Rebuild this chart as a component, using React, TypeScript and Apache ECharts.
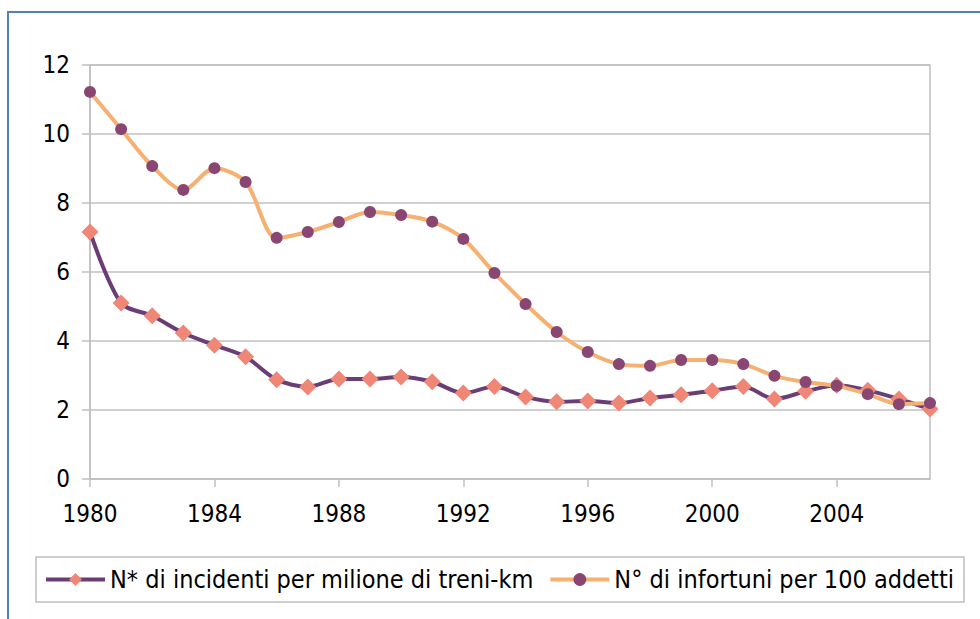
import React, { useEffect, useRef } from "react";
import * as echarts from "echarts";

const years = [
  "1980", "1981", "1982", "1983", "1984", "1985", "1986", "1987", "1988", "1989",
  "1990", "1991", "1992", "1993", "1994", "1995", "1996", "1997", "1998", "1999",
  "2000", "2001", "2002", "2003", "2004", "2005", "2006", "2007",
];
const incidenti = [
  7.16, 5.1, 4.73, 4.23, 3.88, 3.54, 2.88, 2.67, 2.9, 2.9,
  2.96, 2.82, 2.49, 2.68, 2.38, 2.24, 2.26, 2.2, 2.35, 2.44,
  2.56, 2.68, 2.32, 2.54, 2.72, 2.57, 2.32, 2.03,
];
const infortuni = [
  11.22, 10.14, 9.07, 8.38, 9.01, 8.61, 6.99, 7.16, 7.45, 7.74,
  7.65, 7.46, 6.96, 5.97, 5.07, 4.26, 3.68, 3.33, 3.28, 3.45,
  3.45, 3.33, 2.99, 2.81, 2.7, 2.46, 2.17, 2.2,
];
const seriesNames = [
  "N* di incidenti per milione di treni-km",
  "N° di infortuni per 100 addetti",
];

const FONT = "'DejaVu Sans Condensed', 'Liberation Sans', Arial, sans-serif";

export default function App() {
  const ref = useRef<HTMLDivElement>(null);
  useEffect(() => {
    if (!ref.current) return;
    const chart = echarts.init(ref.current, null, { renderer: "svg" });
    chart.setOption({
      animation: false,
      backgroundColor: "#ffffff",
      textStyle: { fontFamily: FONT },
      graphic: [
        {
          type: "rect",
          shape: { x: 8, y: 12, width: 1100, height: 800 },
          style: { fill: "none", stroke: "#4f81bd", lineWidth: 2 },
          silent: true,
        },
      ],
      grid: {
        left: 90,
        right: 50,
        top: 65,
        bottom: 140,
        show: true,
        borderColor: "#c0c0c0",
        borderWidth: 1.5,
        containLabel: false,
      },
      legend: {
        left: 36,
        top: 557,
        padding: [10, 10, 10, 8],
        borderColor: "#bfbfbf",
        borderWidth: 1.5,
        itemWidth: 59,
        itemHeight: 16,
        itemGap: 15,
        lineStyle: { width: 4 },
        textStyle: { fontSize: 25, color: "#000", fontFamily: FONT },
        data: seriesNames,
      },
      xAxis: {
        type: "category",
        data: years,
        boundaryGap: false,
        axisLine: { lineStyle: { color: "#c0c0c0", width: 1.5 } },
        axisTick: {
          interval: 3,
          length: 8,
          lineStyle: { color: "#c0c0c0", width: 1.5 },
        },
        axisLabel: {
          interval: 3,
          margin: 23,
          fontSize: 24,
          color: "#000",
          fontFamily: FONT,
        },
        splitLine: { show: false },
      },
      yAxis: {
        type: "value",
        min: 0,
        max: 12,
        interval: 2,
        axisLine: { show: true, lineStyle: { color: "#c0c0c0", width: 1.5 } },
        axisTick: { show: true, length: 8, lineStyle: { color: "#c0c0c0", width: 1.5 } },
        axisLabel: { margin: 20, fontSize: 24, color: "#000", fontFamily: FONT },
        splitLine: { lineStyle: { color: "#c0c0c0", width: 1.5 } },
      },
      series: [
        {
          name: seriesNames[0],
          type: "line",
          data: incidenti,
          smooth: 0.3,
          symbol: "diamond",
          symbolSize: 17,
          z: 3,
          lineStyle: { color: "#6b3d77", width: 4 },
          itemStyle: { color: "#ef8676", borderWidth: 0 },
        },
        {
          name: seriesNames[1],
          type: "line",
          data: infortuni,
          smooth: 0.3,
          symbol: "circle",
          symbolSize: 12,
          z: 4,
          lineStyle: { color: "#f5b171", width: 4 },
          itemStyle: { color: "#8a4672", borderWidth: 0 },
        },
      ],
    });
    return () => chart.dispose();
  }, []);
  return (
    <div style={{ position: "fixed", left: 0, top: 0, width: 980, height: 619 }}>
      <div ref={ref} style={{ width: 980, height: 619 }} />
    </div>
  );
}
